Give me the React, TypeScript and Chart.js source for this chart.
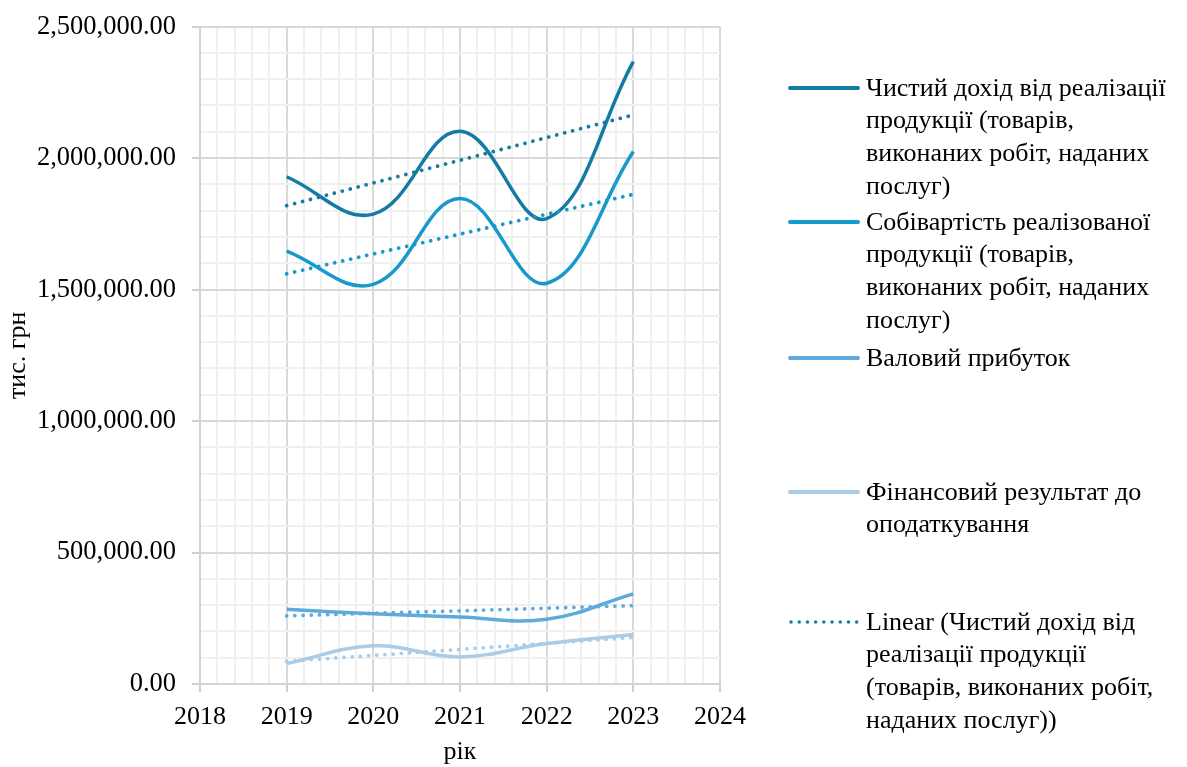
import React, { useEffect, useRef } from 'react';
import { Chart, registerables } from 'chart.js';

Chart.register(...registerables);

// ---- data (thousand UAH) ----
const years = [2019, 2020, 2021, 2022, 2023];
const netRevenue = [1929000, 1787000, 2102000, 1770000, 2367000];
const costOfSales = [1646000, 1520000, 1846000, 1524000, 2025000];
const grossProfit = [284000, 267000, 255000, 246000, 343000];
const preTaxResult = [78000, 145000, 103000, 154000, 188000];

const trendYears = [2019, 2023];
const trendNetRevenue = [1819000, 2164000];
const trendCostOfSales = [1560000, 1862000];
const trendGrossProfit = [259000, 298000];
const trendPreTax = [86000, 177000];

const seriesNames = [
  'Чистий дохід від реалізації продукції (товарів, виконаних робіт, наданих послуг)',
  'Собівартість реалізованої продукції (товарів, виконаних робіт, наданих послуг)',
  'Валовий прибуток',
  'Фінансовий результат до оподаткування',
];

const legendLines = [
  ['Чистий дохід від реалізації', 'продукції (товарів,', 'виконаних робіт, наданих', 'послуг)'],
  ['Собівартість реалізованої', 'продукції (товарів,', 'виконаних робіт, наданих', 'послуг)'],
  ['Валовий прибуток'],
  ['Фінансовий результат до', 'оподаткування'],
  ['Linear (Чистий дохід від', 'реалізації продукції', '(товарів, виконаних робіт,', 'наданих послуг))'],
];

const xMin = 2018;
const xMax = 2024;
const yMax = 2500000;
const xTitle = 'рік';
const yTitle = 'тис. грн';

const colors = ['#147ba2', '#1899cc', '#5eaadc', '#a9cce8'];
const FONT = "'Liberation Serif', 'Times New Roman', serif";

const pts = (xs: number[], ys: number[]) => xs.map((x, i) => ({ x, y: ys[i] }));

const isMajorX = (v: number) => Math.abs(v - Math.round(v)) < 1e-6;
const isMajorY = (v: number) => Math.abs(v % 500000) < 1e-6;

export default function App() {
  const ref = useRef<HTMLCanvasElement | null>(null);

  useEffect(() => {
    if (!ref.current) return;
    const seriesData = [netRevenue, costOfSales, grossProfit, preTaxResult];
    const trendData = [trendNetRevenue, trendCostOfSales, trendGrossProfit, trendPreTax];
    const datasets: any[] = [];
    seriesData.forEach((d, i) => {
      datasets.push({
        label: seriesNames[i],
        data: pts(years, d),
        borderColor: colors[i],
        backgroundColor: colors[i],
        borderWidth: 3.5,
        pointRadius: 0,
        tension: 0.4,
        fill: false,
        order: 2,
      });
    });
    trendData.forEach((d, i) => {
      datasets.push({
        label: 'Linear (' + seriesNames[i] + ')',
        data: pts(trendYears, d),
        borderColor: colors[i],
        backgroundColor: colors[i],
        borderWidth: 3.8,
        borderDash: [0.01, 8.2],
        borderCapStyle: 'round',
        pointRadius: 0,
        tension: 0,
        fill: false,
        order: 1,
      });
    });

    const chart = new Chart(ref.current, {
      type: 'line',
      data: { datasets },
      options: {
        animation: false,
        responsive: false,
        maintainAspectRatio: false,
        layout: { padding: { top: 24, right: 467, left: 0, bottom: 0 } },
        plugins: { legend: { display: false }, tooltip: { enabled: false } },
        scales: {
          x: {
            type: 'linear',
            min: xMin,
            max: xMax,
            afterFit: (s: any) => { s.height = 83; },
            ticks: {
              stepSize: 0.2,
              autoSkip: false,
              maxRotation: 0,
              padding: 10,
              color: '#000',
              font: { family: FONT, size: 26 },
              callback: (v: any) => (isMajorX(Number(v)) ? String(Math.round(Number(v))) : ''),
            },
            grid: {
              color: (c: any) => (c.tick && isMajorX(c.tick.value) ? '#d9d9d9' : '#f0f0f0'),
              lineWidth: 2,
              tickLength: 8,
              tickColor: (c: any) => (c.tick && isMajorX(c.tick.value) ? '#cfcfcf' : 'rgba(0,0,0,0)'),
            },
            border: { color: '#d4d4d4', width: 2 },
            title: {
              display: true,
              text: xTitle,
              color: '#000',
              font: { family: FONT, size: 26 },
              padding: { top: 0, bottom: -1 },
            },
          },
          y: {
            type: 'linear',
            min: 0,
            max: yMax,
            afterFit: (s: any) => { s.width = 200; },
            ticks: {
              stepSize: 100000,
              autoSkip: false,
              padding: 16,
              color: '#000',
              font: { family: FONT, size: 26.5, lineHeight: 0.8 },
              callback: (v: any) =>
                isMajorY(Number(v))
                  ? Number(v).toLocaleString('en-US', { minimumFractionDigits: 2, maximumFractionDigits: 2 })
                  : '',
            },
            grid: {
              color: (c: any) => (c.tick && isMajorY(c.tick.value) ? '#d9d9d9' : '#f0f0f0'),
              lineWidth: 2,
              tickLength: 8,
              tickColor: (c: any) => (c.tick && isMajorY(c.tick.value) ? '#cfcfcf' : 'rgba(0,0,0,0)'),
            },
            border: { color: '#d4d4d4', width: 2 },
            title: {
              display: true,
              text: yTitle,
              color: '#000',
              font: { family: FONT, size: 26 },
              padding: { top: 3, bottom: 0 },
            },
          },
        },
      } as any,
    });
    return () => chart.destroy();
  }, []);

  const legendTops = [88, 222, 358, 492, 622];
  const lineH = 32.7;

  return (
    <div style={{ position: 'absolute', left: 0, top: 0, width: 1187, height: 767, background: '#fff' }}>
      <canvas ref={ref} width={1187} height={767} style={{ display: 'block', width: 1187, height: 767 }} />
      {legendLines.map((lines, i) => {
        const cy = legendTops[i];
        const color = i < 4 ? colors[i] : colors[0];
        return (
          <div key={i}>
            <svg
              width={72}
              height={10}
              style={{ position: 'absolute', left: 788, top: cy - 5 }}
            >
              {i < 4 ? (
                <line x1={2} y1={5} x2={70} y2={5} stroke={color} strokeWidth={4} strokeLinecap="round" />
              ) : (
                <line
                  x1={3}
                  y1={5}
                  x2={70}
                  y2={5}
                  stroke={color}
                  strokeWidth={3.5}
                  strokeLinecap="round"
                  strokeDasharray="0.01 8.2"
                />
              )}
            </svg>
            <div
              style={{
                position: 'absolute',
                left: 866,
                top: cy - lineH / 2,
                fontFamily: FONT,
                fontSize: 26,
                lineHeight: lineH + 'px',
                color: '#000',
                whiteSpace: 'nowrap',
              }}
            >
              {lines.map((t, j) => (
                <div key={j}>{t}</div>
              ))}
            </div>
          </div>
        );
      })}
    </div>
  );
}
